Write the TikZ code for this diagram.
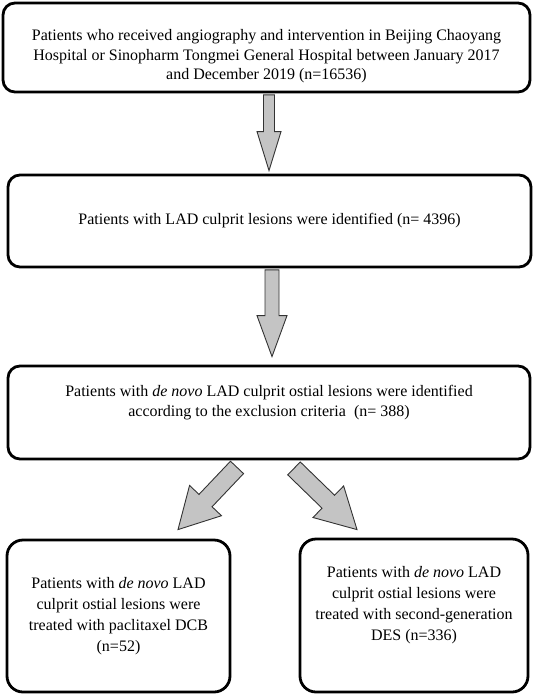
\documentclass[tikz,border=0pt]{standalone}
\usepackage{fontspec}
\setmainfont{Liberation Serif}
\usetikzlibrary{calc}
\newcommand\blockarr[5]{%
  \coordinate (tmpH) at ($(#2)!#5!(#1)$);
  \draw[barrow] ($(#1)!#3!90:(#2)$) -- ($(tmpH)!#3!90:(#2)$) -- ($(tmpH)!#4!90:(#2)$) -- (#2)
    -- ($(tmpH)!#4!-90:(#2)$) -- ($(tmpH)!#3!-90:(#2)$) -- ($(#1)!#3!-90:(#2)$) -- cycle;}
\begin{document}
\begin{tikzpicture}[x=1pt,y=-1pt,
  box/.style={draw=black, line width=2.8pt, rounded corners=12pt, inner sep=0pt, align=center,
    font=\fontsize{16}{19.5}\selectfont},
  lowbox/.style={box, rounded corners=16pt, font=\fontsize{16}{21}\selectfont},
  barrow/.style={fill=black!23, draw=black!80, line width=0.9pt, line join=miter}]
\useasboundingbox (0,0) rectangle (536,696);
\node[box, minimum width=527pt, minimum height=89pt] (b1) at (266.5,47.5)
  {\rule{0pt}{29pt}Patients who received angiography and intervention in Beijing Chaoyang\\
   Hospital or Sinopharm Tongmei General Hospital between January 2017\\
   and December 2019 (n=16536)};
\node[box, minimum width=523pt, minimum height=92pt] (b2) at (269.5,221)
  {Patients with LAD culprit lesions were identified (n= 4396)};
\node[box, minimum width=522pt, minimum height=93pt] (b3) at (269,412.5)
  {Patients with \textit{de novo} LAD culprit ostial lesions were identified\\
   according to the exclusion criteria~~(n= 388)\\[4pt]};
\node[lowbox, minimum width=223pt, minimum height=152pt] (b4) at (118.5,616)
  {Patients with \textit{de novo} LAD\\ culprit ostial lesions were\\
   treated with paclitaxel DCB\\ (n=52)};
\node[lowbox, minimum width=228pt, minimum height=153pt] (b5) at (414,615.5)
  {Patients with \textit{de novo} LAD\\ culprit ostial lesions were\\
   treated with second-generation\\ DES (n=336)\\[4pt]};
\coordinate (s1) at ($(b1.south)+(2.5,1.5)$);
\coordinate (t1) at ($(b2.north)+(-0.5,-3)$);
\coordinate (s2) at ($(b2.south)+(2.5,1.5)$);
\coordinate (t2) at ($(b3.north)+(3,-8)$);
\coordinate (s3) at ($(b3.south)+(-32,7)$);
\coordinate (t3) at ($(b4.north)+(59.5,-9)$);
\coordinate (s4) at ($(b3.south)+(25,8)$);
\coordinate (t4) at ($(b5.north)+(-57,-8)$);
\blockarr{s1}{t1}{5.5pt}{12pt}{39pt}
\blockarr{s2}{t2}{7pt}{15pt}{41pt}
\blockarr{s3}{t3}{9pt}{22pt}{40pt}
\blockarr{s4}{t4}{9pt}{22pt}{40pt}
\end{tikzpicture}
\end{document}
